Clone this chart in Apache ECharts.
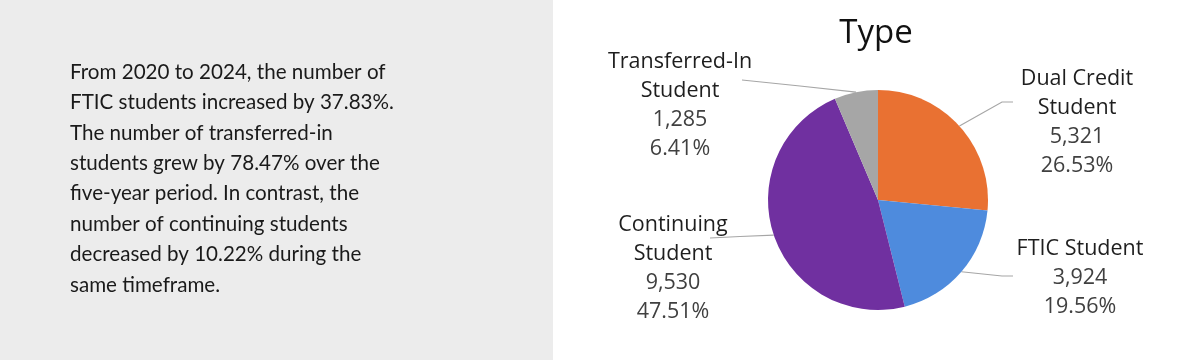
<!DOCTYPE html>
<html>
<head>
<meta charset="utf-8">
<script src="https://cdn.jsdelivr.net/npm/echarts@6/dist/echarts.min.js"></script>
<style>
html,body{margin:0;padding:0;background:#fff;}
#c{width:1200px;height:360px;}
</style>
</head>
<body>
<div id="c"></div>
<script>
const categories = ['Dual Credit\nStudent', 'FTIC Student', 'Continuing\nStudent', 'Transferred-In\nStudent'];
const values = [5321, 3924, 9530, 1285];
const colors = ['#E97132', '#4E8BDD', '#7030A0', '#A6A6A6'];
const paragraph = [
  'From 2020 to 2024, the number of',
  'FTIC students increased by 37.83%.',
  'The number of transferred-in',
  'students grew by 78.47% over the',
  'five-year period. In contrast, the',
  'number of continuing students',
  'decreased by 10.22% during the',
  'same timeframe.'
];
const chartTitle = 'Type';

// label placement (styling): center of label block and leader line elbow/end
const labelPos = [
  {x: 1077, y: 122, elbow: [1002, 102], end: [1013, 102]},
  {x: 1080, y: 278, elbow: [1002, 276], end: [1013, 276]},
  {x: 673, y: 268, elbow: [740, 236.5], end: [710, 238]},
  {x: 680, y: 105, elbow: [800, 86], end: [742, 80]}
];

const chart = echarts.init(document.getElementById('c'), null, {renderer: 'canvas'});
const total = values.reduce((a, b) => a + b, 0);

chart.setOption({
  backgroundColor: '#ffffff',
  animation: false,
  title: {
    text: chartTitle,
    left: 871, top: 12, textAlign: 'center',
    textStyle: {fontFamily: 'Open Sans', fontSize: 33, fontWeight: 'normal', color: '#111'}
  },
  graphic: [
    {type: 'rect', shape: {x: 0, y: 0, width: 553, height: 360}, style: {fill: '#ececec'}, z: -10},
    {type: 'text', left: 70, top: 57, style: {
      text: paragraph.join('\n'), fontFamily: 'Lato', fontSize: 20.6, lineHeight: 30.4, fill: '#1a1a1a'
    }}
  ],
  series: [{
    type: 'pie',
    center: [878, 200],
    radius: 110,
    startAngle: 90,
    clockwise: true,
    data: categories.map((n, i) => ({name: n, value: values[i], itemStyle: {color: colors[i]}})),
    label: {
      show: true,
      position: 'outside',
      formatter: p => '{n|' + p.name + '}\n{v|' + p.value.toLocaleString('en-US') + '}\n{v|' + (p.value / total * 100).toFixed(2) + '%}',
      rich: {
        n: {fontFamily: 'Open Sans', fontSize: 21.5, lineHeight: 29, color: '#1e1e1e', align: 'center'},
        v: {fontFamily: 'Open Sans', fontSize: 21.5, lineHeight: 29, color: '#404040', align: 'center'}
      },
      align: 'center'
    },
    labelLine: {show: true, lineStyle: {color: '#a6a6a6', width: 1.2}},
    labelLayout: function (params) {
      const lp = labelPos[params.dataIndex];
      const start = params.labelLinePoints ? params.labelLinePoints[0] : [878, 200];
      return {
        x: lp.x, y: lp.y, align: 'center', verticalAlign: 'middle',
        labelLinePoints: [start, lp.elbow, lp.end]
      };
    },
    emphasis: {disabled: true}
  }]
});
</script>
</body>
</html>
